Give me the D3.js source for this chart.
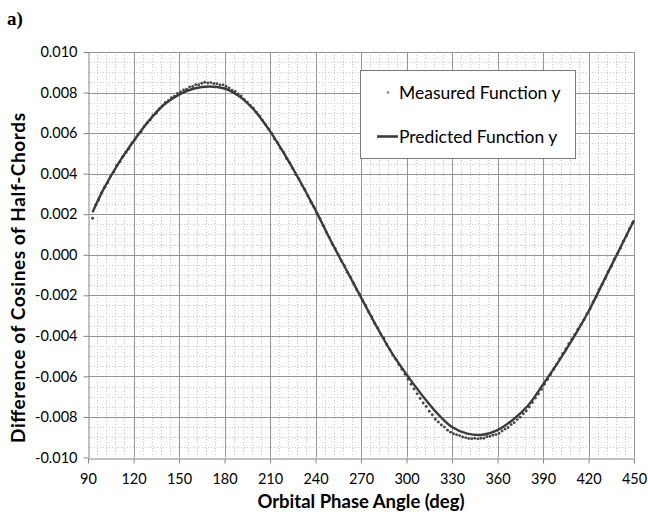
<!DOCTYPE html>
<html lang="en">
<head>
<meta charset="UTF-8">
<title>Difference of Cosines of Half-Chords</title>
<script src="https://cdn.jsdelivr.net/npm/d3@7"></script>
<style>
  html,body{margin:0;padding:0;background:#fff;}
  svg{display:block;}
  text{font-family:Lato,"Open Sans",sans-serif;fill:#000;}
</style>
</head>
<body>
<svg id="chart" width="648" height="512"></svg>
<script>
// tick labels
var xTicks = [90,120,150,180,210,240,270,300,330,360,390,420,450];
var yTicks = [-0.010,-0.008,-0.006,-0.004,-0.002,0.000,0.002,0.004,0.006,0.008,0.010];

// predicted function y (solid line)
var predAngle = [93,100,110,120,130,140,150,160,170,180,190,200,210,220,230,240,250,260,270,
                 280,290,300,310,320,330,340,350,360,370,380,390,400,410,420,430,440,450];
var predY = [0.0021,0.0032,0.0045,0.0056,0.0066,0.0074,0.0079,0.0082,0.0083,0.0082,0.0078,0.0071,
             0.0061,0.0049,0.0036,0.0022,0.0007,-0.0007,-0.0021,-0.0035,-0.0048,-0.0059,-0.0069,
             -0.0078,-0.0085,-0.00882,-0.00888,-0.00865,-0.00815,-0.00745,-0.0064,-0.0053,-0.0041,
             -0.0028,-0.0013,0.0002,0.0017];

// measured function y (dots, one every 2 deg from 93 to 449)
var measAngle = d3.range(93, 450, 2);
var measY = [
  0.00180,0.00245,0.00270,0.00306,0.00333,0.00355,0.00388,0.00409,0.00441,0.00458,
  0.00485,0.00505,0.00523,0.00552,0.00568,0.00594,0.00607,0.00632,0.00650,0.00665,
  0.00688,0.00698,0.00719,0.00734,0.00751,0.00760,0.00774,0.00782,0.00796,0.00803,
  0.00813,0.00817,0.00827,0.00830,0.00839,0.00839,0.00846,0.00851,0.00847,0.00849,
  0.00844,0.00844,0.00838,0.00838,0.00830,0.00823,0.00812,0.00805,0.00793,0.00783,
  0.00766,0.00753,0.00736,0.00723,0.00703,0.00684,0.00662,0.00643,0.00620,0.00600,
  0.00571,0.00553,0.00524,0.00504,0.00474,0.00454,0.00425,0.00396,0.00375,0.00344,
  0.00321,0.00290,0.00259,0.00236,0.00203,0.00178,0.00145,0.00112,0.00087,0.00054,
  0.00031,0.00000,-0.00031,-0.00054,-0.00086,-0.00109,-0.00140,-0.00171,-0.00194,-0.00226,
  -0.00249,-0.00282,-0.00306,-0.00339,-0.00361,-0.00391,-0.00412,-0.00444,-0.00467,-0.00494,
  -0.00515,-0.00541,-0.00565,-0.00590,-0.00614,-0.00639,-0.00662,-0.00686,-0.00709,-0.00731,
  -0.00748,-0.00772,-0.00789,-0.00811,-0.00825,-0.00840,-0.00850,-0.00865,-0.00875,-0.00883,
  -0.00888,-0.00892,-0.00899,-0.00902,-0.00906,-0.00907,-0.00905,-0.00908,-0.00905,-0.00905,
  -0.00898,-0.00896,-0.00890,-0.00887,-0.00881,-0.00869,-0.00860,-0.00852,-0.00838,-0.00828,
  -0.00813,-0.00801,-0.00784,-0.00771,-0.00751,-0.00729,-0.00707,-0.00687,-0.00664,-0.00639,
  -0.00615,-0.00591,-0.00566,-0.00541,-0.00514,-0.00488,-0.00465,-0.00439,-0.00417,-0.00393,
  -0.00368,-0.00345,-0.00321,-0.00291,-0.00268,-0.00233,-0.00207,-0.00172,-0.00145,-0.00118,
  -0.00083,-0.00057,-0.00022,0.00005,0.00032,0.00067,0.00093,0.00128,0.00155
];

var legendLabels = ["Measured Function y", "Predicted Function y"];

var svg = d3.select("#chart");
var plotL = 88, plotR = 634, plotT = 52, plotB = 457.5;

var x = d3.scaleLinear().domain([90, 450]).range([plotL, plotR]);
var y = d3.scaleLinear().domain([-0.010, 0.010]).range([plotB, plotT]);

var fmt = d3.formatLocale({decimal: ".", thousands: ",", grouping: [3], currency: ["", ""], minus: "-"}).format(".3f");

// minor grid (dotted)
var minorX = d3.range(96, 450, 6).filter(function(d){ return (d - 90) % 30 != 0; });
var minorY = d3.range(-19, 20).map(function(k){ return k * 0.0005; })
    .filter(function(d){ return Math.abs(Math.round(d * 10000)) % 20 != 0; });
var grid = svg.append("g");
grid.selectAll(".mx").data(minorX).enter().append("line")
    .attr("x1", function(d){ return Math.round(x(d)) + 0.5; })
    .attr("x2", function(d){ return Math.round(x(d)) + 0.5; })
    .attr("y1", plotT).attr("y2", plotB)
    .attr("stroke", "#c8c8c8").attr("stroke-dasharray", "1,2");
grid.selectAll(".my").data(minorY).enter().append("line")
    .attr("y1", function(d){ return Math.round(y(d)) + 0.5; })
    .attr("y2", function(d){ return Math.round(y(d)) + 0.5; })
    .attr("x1", plotL).attr("x2", plotR)
    .attr("stroke", "#c8c8c8").attr("stroke-dasharray", "1,2");

// major grid
grid.selectAll(".Mx").data(xTicks.slice(1)).enter().append("line")
    .attr("x1", function(d){ return Math.round(x(d)) + 0.5; })
    .attr("x2", function(d){ return Math.round(x(d)) + 0.5; })
    .attr("y1", plotT).attr("y2", plotB)
    .attr("stroke", "#959595");
grid.selectAll(".My").data(yTicks.slice(1)).enter().append("line")
    .attr("y1", function(d){ return Math.round(y(d)) + 0.5; })
    .attr("y2", function(d){ return Math.round(y(d)) + 0.5; })
    .attr("x1", plotL).attr("x2", plotR)
    .attr("stroke", "#959595");

// axes
var xAxis = svg.append("g").attr("transform", "translate(0," + (Math.round(plotB) + 0.5) + ")")
    .call(d3.axisBottom(x).tickValues(xTicks).tickSize(5).tickSizeOuter(0).tickPadding(10));
var yAxis = svg.append("g").attr("transform", "translate(" + (plotL + 0.5) + ",0)")
    .call(d3.axisLeft(y).tickValues(yTicks).tickFormat(fmt).tickSize(5).tickSizeOuter(0).tickPadding(6));
[xAxis, yAxis].forEach(function(a){
  a.select(".domain").attr("stroke", "#868686");
  a.selectAll(".tick line").attr("stroke", "#868686");
  a.selectAll(".tick text").style("font-size", "14.5px").attr("fill", "#000");
});

// measured dots
svg.append("g").selectAll("circle").data(measAngle).enter().append("circle")
    .attr("cx", function(d){ return x(d); })
    .attr("cy", function(d, i){ return y(measY[i]); })
    .attr("r", 1.45)
    .attr("fill", "#484848");

// predicted line
var line = d3.line()
    .x(function(d){ return x(d); })
    .y(function(d, i){ return y(predY[i]); })
    .curve(d3.curveCatmullRom.alpha(0.5));
svg.append("path").datum(predAngle)
    .attr("d", line)
    .attr("fill", "none")
    .attr("stroke", "#3c3c3c")
    .attr("stroke-width", 2.4);

// legend
var lg = svg.append("g");
lg.append("rect").attr("x", 360.5).attr("y", 70.5).attr("width", 215).attr("height", 88)
    .attr("fill", "#fff").attr("stroke", "#7a7a7a");
lg.append("circle").attr("cx", 388).attr("cy", 92.5).attr("r", 1.2).attr("fill", "#777");
lg.append("line").attr("x1", 377).attr("x2", 398).attr("y1", 136.5).attr("y2", 136.5)
    .attr("stroke", "#3c3c3c").attr("stroke-width", 2.6);
lg.selectAll("text").data(legendLabels).enter().append("text")
    .attr("x", 399).attr("y", function(d, i){ return i ? 142.5 : 98.5; })
    .style("font-size", "17.5px")
    .text(function(d){ return d; });

// axis titles
svg.append("text")
    .attr("x", (plotL + plotR) / 2).attr("y", 508)
    .attr("text-anchor", "middle")
    .style("font-size", "18.5px").style("font-weight", "bold")
    .text("Orbital Phase Angle (deg)");
svg.append("text")
    .attr("transform", "translate(25,278) rotate(-90)")
    .attr("text-anchor", "middle")
    .attr("textLength", 330).attr("lengthAdjust", "spacing")
    .style("font-size", "19px").style("font-weight", "bold")
    .text("Difference of Cosines of Half-Chords");

// panel label
svg.append("text")
    .attr("x", 7).attr("y", 25)
    .style("font-family", "'Liberation Serif','Times New Roman',serif")
    .style("font-size", "19px").style("font-weight", "bold")
    .text("a)");
</script>
</body>
</html>
